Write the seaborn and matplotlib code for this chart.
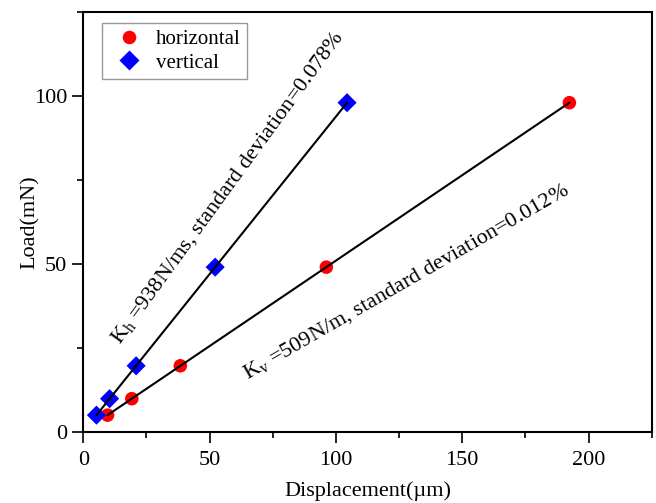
import numpy as np
import pandas as pd
import seaborn as sns
import matplotlib
matplotlib.use('Agg')
from matplotlib import pyplot as plt
from matplotlib.ticker import MultipleLocator

load = [4.9, 9.8, 19.6, 49.0, 98.0]
disp_horizontal = [9.6, 19.2, 38.4, 96.2, 192.4]
disp_vertical = [5.2, 10.4, 20.9, 52.2, 104.4]
series = ['horizontal', 'vertical']

label_h = r'K$_\mathrm{h}$ =938N/ms, standard deviation=0.078%'
label_v = r'K$_\mathrm{v}$ =509N/m, standard deviation=0.012%'

df = pd.DataFrame({
    'disp': disp_horizontal + disp_vertical,
    'load': load + load,
    'dir': [series[0]] * len(load) + [series[1]] * len(load),
})

sns.set_style('ticks')
plt.rcParams['font.family'] = 'serif'
plt.rcParams['font.serif'] = ['Liberation Serif', 'DejaVu Serif']
plt.rcParams['mathtext.fontset'] = 'custom'
plt.rcParams['mathtext.rm'] = 'Liberation Serif'
plt.rcParams['mathtext.it'] = 'Liberation Serif:italic'
plt.rcParams['text.color'] = 'black'
plt.rcParams['axes.labelcolor'] = 'black'
plt.rcParams['xtick.color'] = 'black'
plt.rcParams['ytick.color'] = 'black'

fig = plt.figure(figsize=(6.56, 5.03), dpi=100)
ax = fig.add_axes([0.127, 0.142, 0.8665, 0.834])

sns.scatterplot(data=df, x='disp', y='load', hue='dir', style='dir',
                palette={'horizontal': 'red', 'vertical': 'blue'},
                markers={'horizontal': 'o', 'vertical': 'D'},
                s=95, edgecolor='none', ax=ax, zorder=2)

# linear fit lines, drawn over the markers
for d in [disp_horizontal, disp_vertical]:
    sns.regplot(x=np.array(d), y=np.array(load), scatter=False, ci=None,
                truncate=True, color='black', line_kws={'lw': 1.5, 'zorder': 3}, ax=ax)

ax.text(14.5, 26.0, label_h, rotation=54, rotation_mode='anchor',
        ha='left', va='baseline', fontsize=16)
ax.text(65, 15.5, label_v, rotation=30, rotation_mode='anchor',
        ha='left', va='baseline', fontsize=16)

ax.set_xlim(0, 225)
ax.set_ylim(0, 125)
ax.xaxis.set_major_locator(MultipleLocator(50))
ax.xaxis.set_minor_locator(MultipleLocator(25))
ax.yaxis.set_major_locator(MultipleLocator(50))
ax.yaxis.set_minor_locator(MultipleLocator(25))
ax.tick_params(which='major', direction='out', length=8, width=1.2, labelsize=16)
ax.tick_params(axis='x', which='major', pad=6)
ax.tick_params(which='minor', direction='out', length=4, width=1.2)

for sp in ax.spines.values():
    sp.set_linewidth(1.5)
    sp.set_color('black')
    sp.set_visible(True)

ax.set_xlabel('Displacement(\u00b5m)', fontsize=16, labelpad=8)
ax.set_ylabel('Load(mN)', fontsize=16, labelpad=-4)

leg = ax.legend(loc='upper left', bbox_to_anchor=(0.033, 0.974), borderaxespad=0,
                fontsize=15, frameon=True, fancybox=False, edgecolor='#808080',
                handletextpad=0.3, borderpad=0.3, labelspacing=0.2)
leg.get_frame().set_linewidth(1.0)

fig.savefig('out.png', dpi=100)
